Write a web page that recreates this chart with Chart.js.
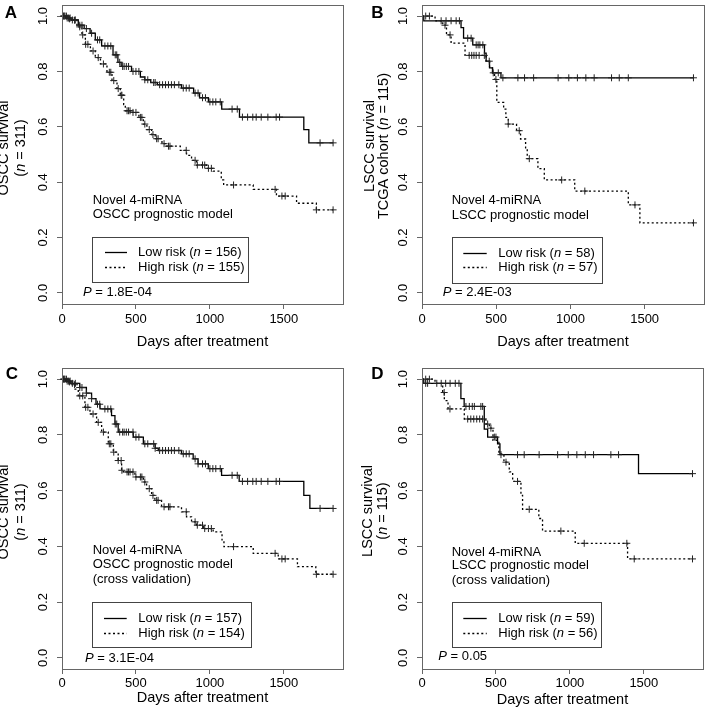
<!DOCTYPE html>
<html><head><meta charset="utf-8">
<script src="https://cdn.jsdelivr.net/npm/chart.js@4"></script>
<style>
html,body{margin:0;padding:0;background:#fff;}
#wrap{position:relative;width:709px;height:714px;overflow:hidden;background:#fff;}
canvas{position:absolute;}
</style></head><body>
<div id="wrap">
<canvas id="cA" width="354" height="355" style="left:0;top:0"></canvas>
<canvas id="cB" width="355" height="355" style="left:354px;top:0"></canvas>
<canvas id="cC" width="354" height="359" style="left:0;top:355px"></canvas>
<canvas id="cD" width="355" height="359" style="left:354px;top:355px"></canvas>
</div>
<script>
// ---------- shared labels ----------
const xTickVals = [0, 500, 1000, 1500];
const yTickVals = [0, 0.2, 0.4, 0.6, 0.8, 1.0];
const xTitle = 'Days after treatment';

// ---------- Panel A ----------
const aLowT = [0, 25, 60, 110, 150, 190, 225, 268, 345, 378, 400, 470, 530, 560, 600, 645, 808, 890, 930, 990, 1080, 1200, 1635, 1669, 1833];
const aLowS = [1.0, 0.993, 0.986, 0.967, 0.955, 0.938, 0.914, 0.892, 0.86, 0.833, 0.818, 0.8, 0.78, 0.77, 0.76, 0.752, 0.74, 0.722, 0.705, 0.69, 0.664, 0.635, 0.59, 0.542, 0.542];
const aLowCens = [10, 20, 35, 45, 55, 70, 90, 120, 135, 165, 200, 240, 255, 290, 310, 330, 360, 370, 390, 410, 420, 435, 450, 480, 500, 520, 560, 580, 620, 630, 660, 680, 700, 720, 740, 760, 790, 820, 840, 860, 900, 920, 950, 970, 1000, 1020, 1040, 1070, 1150, 1185, 1220, 1255, 1290, 1313, 1347, 1392, 1448, 1471, 1745, 1833];
const aHighT = [0, 40, 68, 101, 135, 158, 192, 225, 260, 304, 338, 372, 394, 417, 428, 470, 520, 550, 574, 606, 630, 676, 700, 800, 842, 876, 910, 977, 1022, 1077, 1093, 1293, 1450, 1586, 1720, 1833];
const aHighS = [1.0, 0.99, 0.985, 0.961, 0.932, 0.898, 0.874, 0.85, 0.827, 0.797, 0.767, 0.738, 0.714, 0.68, 0.658, 0.652, 0.634, 0.61, 0.59, 0.572, 0.557, 0.539, 0.53, 0.515, 0.497, 0.479, 0.462, 0.45, 0.44, 0.408, 0.39, 0.374, 0.35, 0.324, 0.3, 0.3];
const aHighCens = [15, 30, 50, 85, 120, 140, 160, 175, 210, 245, 280, 320, 330, 350, 380, 400, 405, 440, 450, 460, 480, 500, 530, 540, 560, 590, 615, 640, 650, 690, 720, 730, 840, 900, 915, 950, 965, 990, 1010, 1160, 1441, 1487, 1509, 1720, 1833];
const aYTitle = ['OSCC survival', '(*n* = 311)'];
const aNote = ['Novel 4-miRNA', 'OSCC prognostic model'];
const aLegend = ['Low risk (*n* = 156)', 'High risk (*n* = 155)'];
const aP = '*P* = 1.8E-04';

// ---------- Panel B ----------
const bLowT = [0, 12, 263, 280, 342, 421, 432, 455, 475, 532, 1833];
const bLowS = [1.0, 0.983, 0.958, 0.92, 0.896, 0.866, 0.837, 0.813, 0.795, 0.777, 0.777];
const bLowCens = [129, 162, 196, 230, 252, 308, 331, 365, 378, 390, 410, 480, 514, 545, 646, 691, 752, 917, 989, 1047, 1104, 1160, 1277, 1329, 1390, 1829];
const bHighT = [0, 88, 140, 165, 196, 290, 432, 455, 475, 489, 504, 550, 565, 581, 637, 664, 698, 709, 781, 824, 1029, 1390, 1468, 1833];
const bHighS = [1.0, 0.983, 0.967, 0.932, 0.902, 0.858, 0.837, 0.813, 0.789, 0.771, 0.688, 0.664, 0.634, 0.61, 0.586, 0.556, 0.52, 0.485, 0.449, 0.408, 0.368, 0.318, 0.253, 0.253];
const bHighCens = [25, 50, 155, 189, 318, 335, 350, 365, 385, 420, 453, 498, 581, 655, 723, 941, 1097, 1435, 1829];
const bYTitle = ['LSCC survival', 'TCGA cohort (*n* = 115)'];
const bNote = ['Novel 4-miRNA', 'LSCC prognostic model'];
const bLegend = ['Low risk (*n* = 58)', 'High risk (*n* = 57)'];
const bP = '*P* = 2.4E-03';

// ---------- Panel C ----------
const cLowT = [0, 25, 60, 120, 165, 200, 230, 257, 335, 358, 380, 482, 550, 630, 651, 808, 887, 920, 989, 1079, 1198, 1635, 1676, 1833];
const cLowS = [1.0, 0.993, 0.985, 0.97, 0.95, 0.93, 0.91, 0.893, 0.869, 0.839, 0.81, 0.792, 0.768, 0.752, 0.744, 0.732, 0.714, 0.696, 0.679, 0.655, 0.633, 0.583, 0.536, 0.536];
const cLowCens = [10, 20, 35, 45, 55, 70, 90, 120, 135, 165, 200, 240, 255, 290, 310, 330, 360, 370, 390, 410, 420, 435, 450, 480, 500, 520, 560, 580, 620, 630, 660, 680, 700, 720, 740, 760, 790, 820, 840, 860, 900, 920, 950, 970, 1000, 1020, 1040, 1070, 1150, 1185, 1220, 1255, 1290, 1313, 1347, 1392, 1448, 1471, 1745, 1833];
const cHighT = [0, 40, 70, 88, 110, 155, 189, 234, 268, 313, 347, 380, 403, 414, 493, 550, 572, 606, 628, 673, 808, 842, 876, 910, 955, 1022, 1082, 1095, 1293, 1462, 1592, 1716, 1833];
const cHighS = [1.0, 0.99, 0.98, 0.964, 0.94, 0.899, 0.875, 0.845, 0.81, 0.768, 0.738, 0.708, 0.673, 0.667, 0.649, 0.631, 0.607, 0.583, 0.565, 0.542, 0.524, 0.506, 0.488, 0.476, 0.464, 0.452, 0.423, 0.399, 0.375, 0.355, 0.327, 0.3, 0.3];
const cHighCens = [15, 30, 50, 85, 120, 140, 160, 175, 210, 245, 280, 320, 330, 350, 380, 400, 405, 440, 450, 460, 480, 500, 530, 540, 560, 590, 615, 640, 650, 690, 720, 730, 840, 900, 915, 950, 965, 990, 1010, 1160, 1441, 1487, 1509, 1720, 1833];
const cYTitle = ['OSCC survival', '(*n* = 311)'];
const cNote = ['Novel 4-miRNA', 'OSCC prognostic model', '(cross validation)'];
const cLegend = ['Low risk (*n* = 157)', 'High risk (*n* = 154)'];
const cP = '*P* = 3.1E-04';

// ---------- Panel D ----------
const dLowT = [0, 12, 263, 285, 421, 444, 511, 527, 1464, 1833];
const dLowS = [1.0, 0.985, 0.93, 0.902, 0.821, 0.792, 0.768, 0.729, 0.661, 0.661];
const dLowCens = [25, 38, 100, 130, 160, 190, 225, 250, 297, 320, 340, 354, 398, 410, 489, 500, 534, 646, 691, 792, 917, 989, 1047, 1104, 1160, 1277, 1329, 1829];
const dHighT = [0, 88, 140, 151, 176, 286, 432, 455, 480, 520, 554, 590, 613, 669, 680, 790, 815, 1036, 1390, 1833];
const dHighS = [1.0, 0.985, 0.952, 0.923, 0.893, 0.857, 0.839, 0.824, 0.78, 0.732, 0.702, 0.667, 0.633, 0.583, 0.533, 0.5, 0.455, 0.411, 0.355, 0.355];
const dHighCens = [25, 50, 150, 189, 309, 330, 350, 370, 390, 410, 444, 466, 568, 646, 725, 939, 1097, 1385, 1435, 1829];
const dYTitle = ['LSCC survival', '(*n* = 115)'];
const dNote = ['Novel 4-miRNA', 'LSCC prognostic model', '(cross validation)'];
const dLegend = ['Low risk (*n* = 59)', 'High risk (*n* = 56)'];
const dP = '*P* = 0.05';

// ---------- helpers ----------
const FAM = '"Liberation Sans", Arial, sans-serif';
Chart.defaults.font.family = FAM;

function stepAt(T, S, t) {
  let v = S[0];
  for (let i = 0; i < T.length; i++) { if (T[i] <= t) v = S[i]; else break; }
  return v;
}
function pts(T, S) { return T.map((t, i) => ({x: t, y: S[i]})); }
function censPts(T, S, C) { return C.map(t => ({x: t, y: stepAt(T, S, t)})); }

function segs(str) { return str.split('*').map((s, i) => [s, i % 2 === 1]).filter(s => s[0].length); }
function richWidth(c, str, size) {
  let w = 0;
  for (const [t, it] of segs(str)) { c.font = (it ? 'italic ' : '') + size + 'px ' + FAM; w += c.measureText(t).width; }
  return w;
}
function drawRich(c, str, x, y, size) {
  let cx = x;
  for (const [t, it] of segs(str)) {
    c.font = (it ? 'italic ' : '') + size + 'px ' + FAM;
    c.fillText(t, cx, y);
    cx += c.measureText(t).width;
  }
}

function panelPlugin(d, L) {
  return {
    id: 'panel' + d.letter,
    afterDraw(chart) {
      const c = chart.ctx, a = chart.chartArea;
      c.save();
      // frame
      c.strokeStyle = '#666'; c.lineWidth = 1;
      c.strokeRect(a.left + 0.5, a.top + 0.5, a.right - a.left, a.bottom - a.top);
      c.fillStyle = '#000';
      // panel letter
      c.textAlign = 'center'; c.textBaseline = 'middle';
      c.font = 'bold 17px ' + FAM;
      c.fillText(d.letter, L.letter[0], L.letter[1]);
      // y title (rotated)
      c.textAlign = 'left';
      d.yTitle.forEach((line, i) => {
        const w = richWidth(c, line, 14.5);
        c.save();
        c.translate(L.yTitleX[i], L.yTitleY);
        c.rotate(-Math.PI / 2);
        drawRich(c, line, -w / 2, 0, 14.5);
        c.restore();
      });
      // model note
      d.note.forEach((line, i) => drawRich(c, line, a.left + L.noteX, a.bottom + L.noteY[i], 13));
      // legend box
      c.strokeStyle = '#444'; c.lineWidth = 1;
      c.strokeRect(Math.round(a.left + L.box[0]) + 0.5, Math.round(a.bottom + L.box[1]) + 0.5,
                   Math.round(L.box[2] - L.box[0]), Math.round(L.box[3] - L.box[1]));
      d.legend.forEach((lab, i) => {
        const y = Math.round(a.bottom + L.rows[i]) + 0.5;
        c.strokeStyle = '#000'; c.lineWidth = 1.3;
        c.setLineDash(i === 0 ? [] : [2, 2.5]);
        c.beginPath(); c.moveTo(a.left + L.sample[0], y); c.lineTo(a.left + L.sample[1], y); c.stroke();
        c.setLineDash([]);
        drawRich(c, lab, a.left + L.textX, y, 13);
      });
      // P value
      drawRich(c, d.p, a.left + L.p[0], a.bottom + L.p[1], 13);
      c.restore();
    }
  };
}

function makeChart(id, d, L) {
  const zero = s => { s.paddingLeft = 0; s.paddingRight = 0; s.paddingTop = 0; s.paddingBottom = 0; };
  const gridOpt = {display: true, drawOnChartArea: false, drawTicks: true, tickLength: 5, color: '#666', lineWidth: 1};
  return new Chart(document.getElementById(id), {
    type: 'line',
    data: {
      datasets: [
        {label: 'Low risk', data: pts(d.lowT, d.lowS), stepped: true, borderColor: '#000', borderWidth: 1.3, pointRadius: 0, fill: false, order: 2},
        {label: 'High risk', data: pts(d.highT, d.highS), stepped: true, borderColor: '#000', borderWidth: 1.3, borderDash: [2, 2.5], pointRadius: 0, fill: false, order: 2},
        {label: 'Low risk censored', data: censPts(d.lowT, d.lowS, d.lowCens), showLine: false, pointStyle: 'cross', pointRadius: 3.5, borderColor: '#222', backgroundColor: '#222', borderWidth: 1, order: 1, clip: false},
        {label: 'High risk censored', data: censPts(d.highT, d.highS, d.highCens), showLine: false, pointStyle: 'cross', pointRadius: 3.5, borderColor: '#222', backgroundColor: '#222', borderWidth: 1, order: 1, clip: false}
      ]
    },
    options: {
      responsive: false, animation: false, devicePixelRatio: 1,
      layout: {padding: L.pad},
      plugins: {legend: {display: false}, tooltip: {enabled: false}},
      events: [],
      scales: {
        x: {
          type: 'linear', min: 0, max: 1900,
          afterBuildTicks: s => { s.ticks = xTickVals.map(v => ({value: v})); },
          afterFit: s => { s.height = L.xH; zero(s); },
          grid: gridOpt, border: {display: false},
          ticks: {padding: L.xTickPad, color: '#000', font: {size: 13}, autoSkip: false, maxRotation: 0, callback: v => String(v)},
          title: {display: true, text: xTitle, color: '#000', font: {size: 14.5}, padding: {top: 0, bottom: 0}}
        },
        y: {
          type: 'linear', min: -0.04, max: 1.04,
          afterBuildTicks: s => { s.ticks = yTickVals.map(v => ({value: v})); },
          afterFit: s => { s.width = L.yW; zero(s); },
          grid: gridOpt, border: {display: false},
          ticks: {padding: 4.5, crossAlign: 'center', minRotation: 90, maxRotation: 90, autoSkip: false, color: '#000', font: {size: 13}, callback: v => Number(v).toFixed(1)}
        }
      }
    },
    plugins: [panelPlugin(d, L)]
  });
}

makeChart('cA',
  {letter: 'A', lowT: aLowT, lowS: aLowS, lowCens: aLowCens, highT: aHighT, highS: aHighS, highCens: aHighCens, yTitle: aYTitle, note: aNote, legend: aLegend, p: aP},
  {pad: {left: 0, top: 1, right: 11, bottom: 4}, yW: 62, xH: 47, xTickPad: 3, letter: [11, 13], yTitleX: [4, 21], yTitleY: 148,
   noteX: 30.7, noteY: [-104, -90], box: [30, -67, 186, -22], rows: [-52, -37], sample: [43, 65], textX: 76, p: [21, -12]});

makeChart('cB',
  {letter: 'B', lowT: bLowT, lowS: bLowS, lowCens: bLowCens, highT: bHighT, highS: bHighS, highCens: bHighCens, yTitle: bYTitle, note: bNote, legend: bLegend, p: bP},
  {pad: {left: 0, top: 1, right: 5, bottom: 4}, yW: 68, xH: 47, xTickPad: 3, letter: [23.5, 13], yTitleX: [16, 29.5], yTitleY: 146,
   noteX: 29.7, noteY: [-104, -89], box: [29.7, -67, 179.7, -21], rows: [-50.7, -37.3], sample: [41.3, 64.7], textX: 76.3, p: [20.7, -11.3]});

makeChart('cC',
  {letter: 'C', lowT: cLowT, lowS: cLowS, lowCens: cLowCens, highT: cHighT, highS: cHighS, highCens: cHighCens, yTitle: cYTitle, note: cNote, legend: cLegend, p: cP},
  {pad: {left: 0, top: 13, right: 11, bottom: 7}, yW: 62, xH: 38, xTickPad: 2, letter: [12, 19], yTitleX: [4, 21], yTitleY: 157,
   noteX: 30.7, noteY: [-119, -105, -90], box: [30, -66.7, 188.7, -21.3], rows: [-50.7, -35.7], sample: [42, 64.7], textX: 76.3, p: [23, -10.7]});

makeChart('cD',
  {letter: 'D', lowT: dLowT, lowS: dLowS, lowCens: dLowCens, highT: dHighT, highS: dHighS, highCens: dHighCens, yTitle: dYTitle, note: dNote, legend: dLegend, p: dP},
  {pad: {left: 0, top: 13, right: 6, bottom: 5}, yW: 68, xH: 40, xTickPad: 2, letter: [23.5, 19], yTitleX: [14, 29], yTitleY: 156,
   noteX: 29.7, noteY: [-117, -104, -89], box: [29.7, -66.7, 178.7, -21.3], rows: [-50.7, -35.7], sample: [41.3, 64.7], textX: 76.3, p: [16.3, -12.3]});
</script>
</body></html>
